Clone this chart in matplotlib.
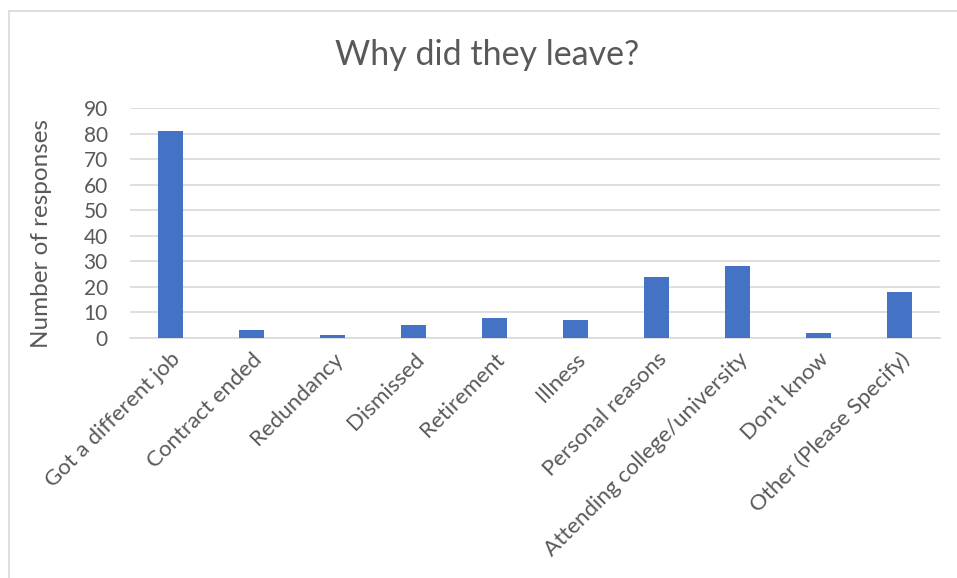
import matplotlib
matplotlib.use("Agg")
import matplotlib.pyplot as plt
from matplotlib.patches import Rectangle

categories = ["Got a different job", "Contract ended", "Redundancy", "Dismissed",
              "Retirement", "Illness", "Personal reasons",
              "Attending college/university", "Don't know", "Other (Please Specify)"]
values = [81, 3, 1, 5, 8, 7, 24, 28, 2, 18]
yticks = [0, 10, 20, 30, 40, 50, 60, 70, 80, 90]

plt.rcParams['font.family'] = ['Lato', 'DejaVu Sans']
W, H = 957, 578
fig = plt.figure(figsize=(W / 100, H / 100), dpi=100)
ax = fig.add_axes([130 / W, 1 - 338 / H, (940 - 130) / W, (338 - 108) / H])

ax.bar(range(len(categories)), values, width=0.31, color="#4472C4", zorder=3)
ax.set_xlim(-0.5, len(categories) - 0.5)
ax.set_ylim(0, 90)
ax.set_yticks(yticks)
ax.yaxis.grid(True, color="#D9D9D9", linewidth=1.2, zorder=0)
for s in ["top", "right", "left"]:
    ax.spines[s].set_visible(False)
ax.spines["bottom"].set_color("#D9D9D9")
ax.spines["bottom"].set_linewidth(1.2)
ax.tick_params(axis="x", length=0, colors="#595959", labelsize=16, pad=8)
ax.tick_params(axis="y", length=0, colors="#595959", labelsize=15, pad=16)
ax.set_xticks(range(len(categories)))
ax.set_xticklabels(categories, rotation=45, ha="right", rotation_mode="anchor")
ax.set_ylabel("Number of responses", color="#595959", fontsize=17.5)
ax.yaxis.set_label_coords((52 - 130) / 810, (338 - 234) / 230)

fig.text(487 / W, 1 - 55 / H, "Why did they leave?", ha="center", va="center",
         fontsize=24.5, color="#595959")

fig.patches.append(Rectangle((9 / W, -0.01), 1.0, 1 - 11 / H + 0.01,
                             transform=fig.transFigure, fill=False,
                             edgecolor="#D9D9D9", linewidth=1.2))

fig.savefig("out.png", dpi=100, facecolor="white")
